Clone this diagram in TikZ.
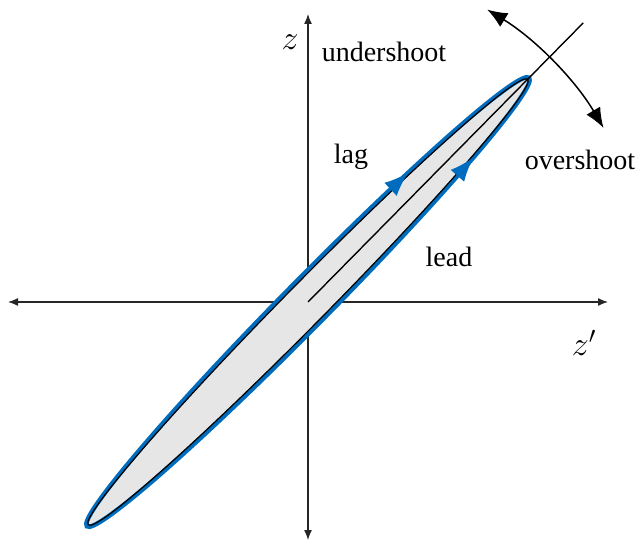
\RequirePackage{fix-cm}
\documentclass[tikz,border=0pt]{standalone}
\usepackage{fontspec}
\setmainfont{Liberation Serif}
\usetikzlibrary{arrows.meta,calc}
\definecolor{eblue}{RGB}{0,108,190}
\definecolor{efill}{RGB}{230,230,230}
\tikzset{
  axis/.style={line width=1.3pt, draw=black!85, {Latex[length=10pt,width=8pt]}-{Latex[length=10pt,width=8pt]}},
  lbl/.style={font=\fontsize{28}{34}\selectfont, inner sep=0pt},
  mlbl/.style={font=\fontsize{34}{40}\selectfont, inner sep=0pt},
  bluetip/.style={eblue, line width=1.5pt, -{Latex[length=24pt,width=18pt]}}
}
\begin{document}
\begin{tikzpicture}[x=1pt,y=1pt]
\useasboundingbox (0,0) rectangle (643,544);
\coordinate (O) at (308,242);
\coordinate (xl) at (8,242);
\coordinate (xr) at (608,242);
\coordinate (yb) at (308,4);
\coordinate (yt) at (308,530);
\draw[axis] (xl) -- (xr);
\draw[axis] (yb) -- (yt);
\begin{scope}[shift={(O)}, rotate=45.4]
  \fill[efill] (0,0) ellipse [x radius=313, y radius=20.5];
  \draw[eblue, line width=4.5pt] (0,0) ellipse [x radius=315, y radius=22.7];
  \draw[black, line width=1.2pt] (0,0) ellipse [x radius=313, y radius=20.5];
  \coordinate (c0) at (0,0);
  \coordinate (tipend) at (392,0);
  \draw[black, line width=1.4pt] (c0) -- (tipend);
  \coordinate (a1s) at ({315*cos(68)},{22.7*sin(68)});
  \coordinate (a1e) at ({315*cos(59)},{22.7*sin(59)});
  \draw[bluetip] (a1s) -- (a1e);
  \coordinate (a2s) at ({315*cos(-55)},{22.7*sin(-55)});
  \coordinate (a2e) at ({315*cos(-46)},{22.7*sin(-46)});
  \draw[bluetip] (a2s) -- (a2e);
\end{scope}
\coordinate (arcS) at ($(O)+(58.5:343)$);
\draw[line width=1.5pt, {Latex[length=20pt,width=16pt]}-{Latex[length=20pt,width=16pt]}]
  (arcS) arc[start angle=58.5, end angle=30.5, radius=343];
\node[mlbl] (zl) at (290,502) {$z$};
\node[lbl] (und) at (384,492) {undershoot};
\node[lbl] (lag) at (351,387) {lag};
\node[lbl] (lead) at (449,287) {lead};
\node[lbl] (over) at (580,384) {overshoot};
\node[mlbl] (zp) at (584,201) {$z'$};
\end{tikzpicture}
\end{document}
